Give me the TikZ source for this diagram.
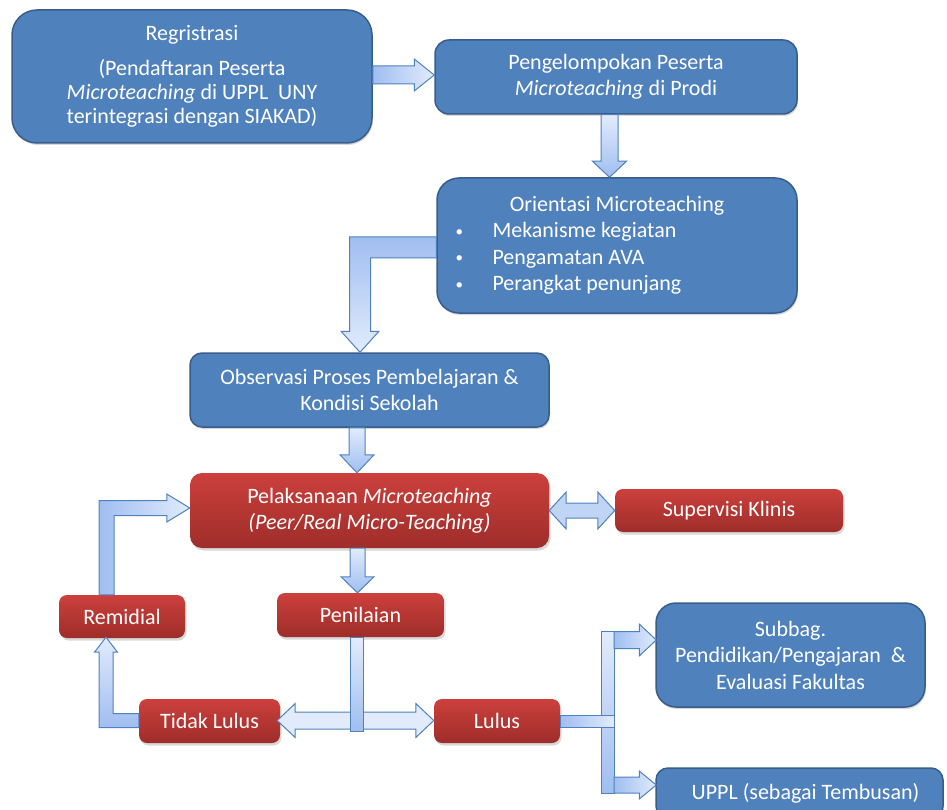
\documentclass[tikz,border=0pt]{standalone}
\usepackage{fontspec}
\setmainfont{Carlito}
\usetikzlibrary{calc,shadows}

\definecolor{boxblue}{HTML}{4F81BD}
\definecolor{boxedge}{HTML}{385D8A}
\definecolor{redtop}{HTML}{CC403C}
\definecolor{redbot}{HTML}{9E2D2A}
\definecolor{arrdark}{HTML}{A0BEF0}
\definecolor{arrlight}{HTML}{E1EBFC}
\definecolor{arredge}{HTML}{4F81BD}

\newcommand{\itembullet}{\makebox[37pt][l]{\raisebox{1.5pt}{\fontsize{15}{15}\selectfont •}}}

\tikzset{
  bluebox/.style={rectangle, rounded corners=#1, fill=boxblue, draw=boxedge,
    line width=1.5pt, text=white, inner sep=0pt, align=center,
    drop shadow={opacity=0.3, shadow xshift=1pt, shadow yshift=-2pt}},
  bluebox/.default=12pt,
  redbox/.style={rectangle, rounded corners=#1, top color=redtop, bottom color=redbot,
    draw=none, text=white, inner sep=0pt, align=center,
    drop shadow={opacity=0.3, shadow xshift=1.5pt, shadow yshift=-2.5pt}},
  redbox/.default=8pt,
  flow/.style={draw=arredge, line width=1pt, line join=miter},
  flowh/.style={flow, left color=arrdark, right color=arrlight},
  flowv/.style={flow, top color=arrlight, bottom color=arrdark},
  % straight block arrow: shaft half width, head half width, head length
  sarrow/.style n args={3}{to path={
    ($(\tikztostart)!#1!90:(\tikztotarget)$)
    -- ($($(\tikztotarget)!#3!(\tikztostart)$)!#1!90:(\tikztotarget)$)
    -- ($($(\tikztotarget)!#3!(\tikztostart)$)!#2!90:(\tikztotarget)$)
    -- (\tikztotarget)
    -- ($($(\tikztotarget)!#3!(\tikztostart)$)!#2!-90:(\tikztotarget)$)
    -- ($($(\tikztotarget)!#3!(\tikztostart)$)!#1!-90:(\tikztotarget)$)
    -- ($(\tikztostart)!#1!-90:(\tikztotarget)$) -- cycle}},
  % double-headed block arrow
  darrow/.style n args={3}{to path={
    (\tikztostart)
    -- ($($(\tikztostart)!#3!(\tikztotarget)$)!#2!90:(\tikztotarget)$)
    -- ($($(\tikztostart)!#3!(\tikztotarget)$)!#1!90:(\tikztotarget)$)
    -- ($($(\tikztotarget)!#3!(\tikztostart)$)!#1!90:(\tikztotarget)$)
    -- ($($(\tikztotarget)!#3!(\tikztostart)$)!#2!90:(\tikztotarget)$)
    -- (\tikztotarget)
    -- ($($(\tikztotarget)!#3!(\tikztostart)$)!#2!-90:(\tikztotarget)$)
    -- ($($(\tikztotarget)!#3!(\tikztostart)$)!#1!-90:(\tikztotarget)$)
    -- ($($(\tikztostart)!#3!(\tikztotarget)$)!#1!-90:(\tikztotarget)$)
    -- ($($(\tikztostart)!#3!(\tikztotarget)$)!#2!-90:(\tikztotarget)$)
    -- cycle}},
}

\begin{document}
\begin{tikzpicture}[x=1pt, y=-1pt, font=\fontsize{22}{26.5}\selectfont]
\useasboundingbox (0,0) rectangle (947,810);

% ---- boxes ----
\node[bluebox=25pt, minimum width=360pt, minimum height=133pt,
      font=\fontsize{22}{24}\selectfont] (reg) at (192,76.5)
  {Regristrasi\\[11pt](Pendaftaran Peserta\\\textit{Microteaching} di UPPL\ \ UNY\\terintegrasi dengan SIAKAD)};
\node[bluebox=14pt, minimum width=362pt, minimum height=74pt] (peng) at (616,77)
  {Pengelompokan Peserta\\\textit{Microteaching} di Prodi};
\node[bluebox=22pt, minimum width=360pt, minimum height=135pt, align=left] (ori) at (617,245.5)
  {\makebox[360pt]{Orientasi Microteaching}\\
   \hspace*{18.5pt}\itembullet Mekanisme kegiatan\\
   \hspace*{18.5pt}\itembullet Pengamatan AVA\\
   \hspace*{18.5pt}\itembullet Perangkat penunjang};
\node[bluebox=12pt, minimum width=359pt, minimum height=74pt] (obs) at (369.5,390)
  {Observasi Proses Pembelajaran \&\\Kondisi Sekolah};
\node[redbox=12pt, minimum width=359pt, minimum height=75pt] (pel) at (369.5,510.5)
  {Pelaksanaan \textit{Microteaching}\\\textit{(Peer/Real Micro-Teaching)}};
\node[redbox, minimum width=228pt, minimum height=43pt] (sup) at (729,510.5) {Supervisi Klinis};
\node[redbox, minimum width=126pt, minimum height=43pt] (rem) at (122,616.5) {Remidial};
\node[redbox, minimum width=167pt, minimum height=44pt] (pen) at (360.5,615) {Penilaian};
\node[redbox, minimum width=141pt, minimum height=44pt] (tl) at (209.5,721) {Tidak Lulus};
\node[redbox, minimum width=126pt, minimum height=44pt] (lul) at (497,721) {Lulus};
\node[bluebox=20pt, minimum width=269pt, minimum height=104pt] (sub) at (790.5,655)
  {Subbag.\\Pendidikan/Pengajaran\ \ \&\\Evaluasi Fakultas};
\node[bluebox=12pt, minimum width=287pt, minimum height=50pt] (uppl) at (799.5,793)
  {\hspace*{12pt}UPPL (sebagai Tembusan)};

% ---- connectors ----
% registration -> grouping
\coordinate (aS) at ($(reg.east)+(0,-1.5)$);
\coordinate (aT) at (aS -| peng.west);
\path[flowh] (aS) to[sarrow={9pt}{16pt}{20pt}] (aT);

% grouping -> orientation
\coordinate (bS) at ($(peng.south)+(-6.5,0)$);
\coordinate (bT) at (bS |- ori.north);
\path[flowv] (bS) to[sarrow={8.5pt}{17pt}{16pt}] (bT);

% orientation -> observation (bent)
\coordinate (cS) at ($(ori.west)+(0,2)$);
\coordinate (cT) at ($(obs.north)+(-9.5,0)$);
\path[flow, top color=arrdark, bottom color=arrlight]
  ($(cS)+(0,-10.5)$) -- ($(cT |- cS)+(-10.5,-10.5)$) -- ($(cT)+(-10.5,-21)$)
  -- ($(cT)+(-19,-21)$) -- (cT) -- ($(cT)+(19,-21)$) -- ($(cT)+(10.5,-21)$)
  -- ($(cT |- cS)+(10.5,10.5)$) -- ($(cS)+(0,10.5)$) -- cycle;

% observation -> execution
\coordinate (dS) at ($(obs.south)+(-12.5,0)$);
\coordinate (dT) at (dS |- pel.north);
\path[flowv] (dS) to[sarrow={8pt}{17pt}{18pt}] (dT);

% execution -> assessment
\coordinate (eS) at ($(pel.south)+(-12,0)$);
\coordinate (eT) at (eS |- pen.north);
\path[flowv] (eS) to[sarrow={7.5pt}{16.5pt}{16pt}] (eT);

% execution <-> clinical supervision
\path[flow, left color=arrdark!50!arrlight, middle color=arrlight, right color=arrdark!50!arrlight]
  (pel.east) to[darrow={7.5pt}{18.5pt}{17pt}] (sup.west);

% assessment -> fail / pass
\coordinate (gS) at ($(pen.south)+(-4,0)$);
\coordinate (gL) at ($(tl.east)+(-3,-0.5)$);
\coordinate (gR) at ($(lul.west)+(0,-0.5)$);
\path[flow, left color=arrlight, middle color=arrdark!60!arrlight, right color=arrlight]
  (gL) to[darrow={8.5pt}{17pt}{18pt}] (gR);
\path[flowv] ($(gS)+(-6.5,0)$) rectangle ($(gS |- gL)+(6.5,10.5)$);

% fail -> remedial (bent)
\coordinate (hS) at ($(tl.west)+(0,-0.5)$);
\coordinate (hT) at ($(rem.south)+(-16,-1)$);
\path[flow, top color=arrlight, bottom color=arrdark]
  ($(hS)+(0,-7)$) -- ($(hT |- hS)+(7,-7)$) -- ($(hT)+(7,15)$) -- ($(hT)+(11.5,15)$)
  -- (hT) -- ($(hT)+(-11.5,15)$) -- ($(hT)+(-7,15)$) -- ($(hT |- hS)+(-7,7)$)
  -- ($(hS)+(0,7)$) -- cycle;

% remedial -> execution (bent)
\coordinate (iS) at ($(rem.north)+(-15.5,0)$);
\coordinate (iT) at ($(pel.west)+(0,-2.5)$);
\path[flowh]
  ($(iS)+(-7.5,0)$) -- ($(iS |- iT)+(-7.5,-7.5)$) -- ($(iT)+(-23,-7.5)$) -- ($(iT)+(-23,-14)$)
  -- (iT) -- ($(iT)+(-23,14)$) -- ($(iT)+(-23,7.5)$) -- ($(iS |- iT)+(7.5,7.5)$)
  -- ($(iS)+(7.5,0)$) -- cycle;

% pass -> faculty office and UPPL
\coordinate (jx) at ($(lul.east)+(47.5,0)$);
\coordinate (jT1) at ($(sub.west)+(1,-15)$);
\coordinate (jT2) at ($(uppl.west)+(1,-8)$);
\path[flowv] ($(jx |- jT1)+(-6.5,-8.5)$) rectangle ($(jx |- jT2)+(6.5,8)$);
\coordinate (jS1) at ($(jx |- jT1)+(6.5,0)$);
\coordinate (jS2) at ($(jx |- jT2)+(6.5,0)$);
\path[flowh] (jS1) to[sarrow={8.5pt}{16pt}{17pt}] (jT1);
\path[flowh] (jS2) to[sarrow={8pt}{14pt}{17pt}] (jT2);
\path[flowh] ($(lul.east)+(0,-6)$) rectangle ($(jx)+(6.5,6)$);
\end{tikzpicture}
\end{document}
